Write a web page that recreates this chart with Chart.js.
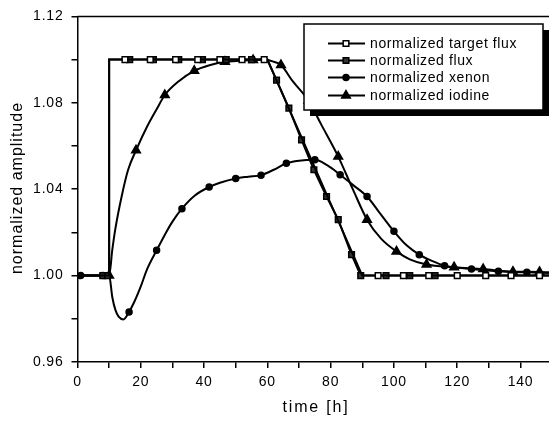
<!DOCTYPE html>
<html>
<head>
<meta charset="utf-8">
<script src="https://cdn.jsdelivr.net/npm/chart.js@4.4.1/dist/chart.umd.min.js"></script>
<style>
  html, body { margin: 0; padding: 0; background: #fff; }
  #wrap { width: 549px; height: 423px; }
</style>
</head>
<body>
<div id="wrap"><canvas id="grafico" width="549" height="423"></canvas></div>
<script>
// Dados (tempo em horas, amplitude normalizada)
const timeTarget = [0, 10, 10, 15, 23, 31, 38, 45, 52, 59, 60, 90, 95, 103, 111, 120, 129, 137, 146, 149];
const valTarget = [1.0, 1.0, 1.1, 1.1, 1.1, 1.1, 1.1, 1.1, 1.1, 1.1, 1.1, 1.0, 1.0, 1.0, 1.0, 1.0, 1.0, 1.0, 1.0, 1.0];
const marksTarget = [15, 23, 31, 38, 45, 52, 59, 95, 103, 111, 120, 129, 137, 146];

const timeFlux = [0, 8, 9.5, 10, 10, 16.5, 24, 32, 39.5, 47, 55, 60, 62.9, 66.8, 70.8, 74.7, 78.7, 82.4, 86.6, 89.5, 97.5, 105, 113, 149];
const valFlux = [1.0, 1.0, 1.0, 1.0, 1.1, 1.1, 1.1, 1.1, 1.1, 1.1, 1.1, 1.1, 1.0905, 1.0775, 1.0628, 1.049, 1.0366, 1.0259, 1.0097, 1.0, 1.0, 1.0, 1.0, 1.0];
const marksFlux = [8, 9.5, 16.5, 24, 32, 39.5, 47, 55, 62.9, 66.8, 70.8, 74.7, 78.7, 82.4, 86.6, 89.5, 97.5, 105, 113];

const timeXenon = [0, 1, 8, 10, 11, 12, 13, 14.5, 16.3, 18, 20, 22, 25, 28, 30, 33, 37, 41.6, 45, 50, 54, 58, 62, 66, 70, 75, 79, 83, 87, 91.5, 95, 100, 104, 108, 112, 116, 120, 124.5, 133, 142, 149];
const valXenon = [1.0, 1.0, 1.0, 1.0, 0.990, 0.984, 0.981, 0.9797, 0.9832, 0.988, 0.995, 1.003, 1.0117, 1.020, 1.025, 1.031, 1.037, 1.041, 1.043, 1.045, 1.0458, 1.0465, 1.049, 1.052, 1.0532, 1.0536, 1.051, 1.0467, 1.042, 1.0366, 1.030, 1.0205, 1.014, 1.0097, 1.0068, 1.0046, 1.0036, 1.0031, 1.002, 1.0015, 1.0012];
const marksXenon = [1, 8, 16.3, 25, 33, 41.6, 50, 58, 66, 75, 83, 91.5, 100, 108, 116, 124.5, 133, 142];

const timeIodine = [0, 10, 11, 12, 14, 16, 18.5, 22, 25, 27.6, 32, 36.9, 42, 46.6, 52, 55.5, 59, 62, 64.3, 68, 73, 77, 82.4, 87, 91.5, 96, 100.8, 105, 110.3, 119, 128.2, 137.6, 146, 149];
const valIodine = [1.0, 1.0, 1.012, 1.022, 1.037, 1.049, 1.058, 1.069, 1.077, 1.0836, 1.090, 1.0948, 1.0975, 1.099, 1.0995, 1.0998, 1.100, 1.099, 1.0975, 1.090, 1.081, 1.070, 1.0551, 1.040, 1.0259, 1.017, 1.0112, 1.0075, 1.0051, 1.0039, 1.0030, 1.0018, 1.0017, 1.0015];
const marksIodine = [10, 18.5, 27.6, 36.9, 46.6, 55.5, 64.3, 73, 82.4, 91.5, 100.8, 110.3, 119, 128.2, 137.6, 146];

const xTicks = [0, 20, 40, 60, 80, 100, 120, 140];
const yTicks = [0.96, 1.00, 1.04, 1.08, 1.12];

const FONTE = "'Liberation Sans', Arial, Helvetica, sans-serif";

// Monta os pontos {x, y} a partir dos vetores
function pontos(tempos, valores) {
  return tempos.map((t, i) => ({ x: t, y: valores[i] }));
}

// Cria um dataset de linha com marcadores só nos tempos indicados
function serie(label, tempos, valores, marcas, estilo, raio, fundo, suave) {
  return {
    label,
    data: pontos(tempos, valores),
    borderColor: '#000',
    borderWidth: 2,
    tension: 0,
    cubicInterpolationMode: suave ? 'monotone' : 'default',
    pointStyle: estilo,
    pointBackgroundColor: fundo,
    pointBorderColor: '#000',
    pointBorderWidth: 1.5,
    pointRadius: ctx => (ctx.raw && marcas.includes(ctx.raw.x)) ? raio : 0,
    pointHoverRadius: 0
  };
}

const datasets = [
  serie('normalized target flux', timeTarget, valTarget, marksTarget, 'rect', 4, '#fff', false),
  serie('normalized flux', timeFlux, valFlux, marksFlux, 'rect', 4, '#333', false),
  serie('normalized xenon', timeXenon, valXenon, marksXenon, 'circle', 3, '#000', true),
  serie('normalized iodine', timeIodine, valIodine, marksIodine, 'triangle', 5, '#000', true)
];

// Plugin: espaçamento das letras, moldura superior, títulos dos eixos e legenda
const moldura = {
  id: 'moldura',
  beforeDraw(chart) {
    chart.ctx.letterSpacing = '0.8px';
  },
  afterDraw(chart) {
    const ctx = chart.ctx;
    const a = chart.chartArea;
    ctx.save();
    // linha superior da moldura
    ctx.strokeStyle = '#000';
    ctx.lineWidth = 1.5;
    ctx.beginPath();
    ctx.moveTo(a.left, a.top);
    ctx.lineTo(a.right, a.top);
    ctx.stroke();

    // títulos dos eixos
    ctx.fillStyle = '#000';
    ctx.font = '16px ' + FONTE;
    ctx.textAlign = 'center';
    ctx.textBaseline = 'middle';
    ctx.letterSpacing = '1.8px';
    ctx.fillText('time [h]', 316, 408);
    ctx.translate(18, 188);
    ctx.rotate(-Math.PI / 2);
    ctx.letterSpacing = '1px';
    ctx.fillText('normalized amplitude', 0, 0);
    ctx.restore();

    // legenda com sombra
    ctx.save();
    const bx = 304, by = 24, bw = 239, bh = 86;
    ctx.fillStyle = '#000';
    ctx.fillRect(bx + 6, by + 6, bw, bh);
    ctx.fillStyle = '#fff';
    ctx.fillRect(bx, by, bw, bh);
    ctx.strokeStyle = '#000';
    ctx.lineWidth = 1.5;
    ctx.strokeRect(bx, by, bw, bh);
    const linhas = [43.5, 60.5, 77.5, 95.5];
    ctx.font = '14px ' + FONTE;
    ctx.letterSpacing = '0.6px';
    ctx.textAlign = 'left';
    ctx.textBaseline = 'middle';
    chart.data.datasets.forEach((ds, i) => {
      const y = linhas[i];
      ctx.strokeStyle = '#000';
      ctx.lineWidth = 2;
      ctx.beginPath();
      ctx.moveTo(328, y);
      ctx.lineTo(365, y);
      ctx.stroke();
      ctx.fillStyle = ds.pointBackgroundColor;
      ctx.strokeStyle = '#000';
      ctx.lineWidth = 1.5;
      const r = ds.pointStyle === 'triangle' ? 5 : (ds.pointStyle === 'circle' ? 3 : 4);
      Chart.helpers.drawPoint(ctx, { pointStyle: ds.pointStyle, radius: r, borderWidth: 1.5, rotation: 0 }, 346, y);
      ctx.fillStyle = '#000';
      ctx.fillText(ds.label, 370, y + 0.5);
    });
    ctx.restore();
  }
};

const ctx = document.getElementById('grafico').getContext('2d');
const chart = new Chart(ctx, {
  type: 'line',
  data: { datasets },
  options: {
    responsive: false,
    animation: false,
    events: [],
    layout: { padding: { top: 15, right: 0, left: 0, bottom: 0 } },
    plugins: {
      legend: { display: false },
      tooltip: { enabled: false }
    },
    scales: {
      x: {
        type: 'linear',
        min: 0,
        max: 149,
        afterFit: s => { s.height = 61; },
        afterBuildTicks: s => {
          const t = [];
          for (let v = 0; v <= 140; v += 10) t.push({ value: v });
          s.ticks = t;
        },
        ticks: {
          autoSkip: false,
          maxRotation: 0,
          padding: 6,
          color: '#000',
          font: { family: FONTE, size: 14 },
          callback: v => xTicks.includes(v) ? String(v) : ''
        },
        grid: { drawOnChartArea: false, drawTicks: true, tickLength: 6, color: '#000', lineWidth: 1.5 },
        border: { display: true, color: '#000', width: 1.5 }
      },
      y: {
        type: 'linear',
        min: 0.96,
        max: 1.12,
        afterFit: s => { s.width = 77.5; },
        afterBuildTicks: s => {
          const t = [];
          for (let k = 48; k <= 56; k++) t.push({ value: k / 50 });
          s.ticks = t;
        },
        ticks: {
          autoSkip: false,
          padding: 8,
          color: '#000',
          font: { family: FONTE, size: 14 },
          callback: v => yTicks.some(q => Math.abs(q - v) < 1e-6) ? v.toFixed(2) : ''
        },
        grid: { drawOnChartArea: false, drawTicks: true, tickLength: 6, color: '#000', lineWidth: 1.5 },
        border: { display: true, color: '#000', width: 1.5 }
      }
    }
  },
  plugins: [moldura]
});
</script>
</body>
</html>
